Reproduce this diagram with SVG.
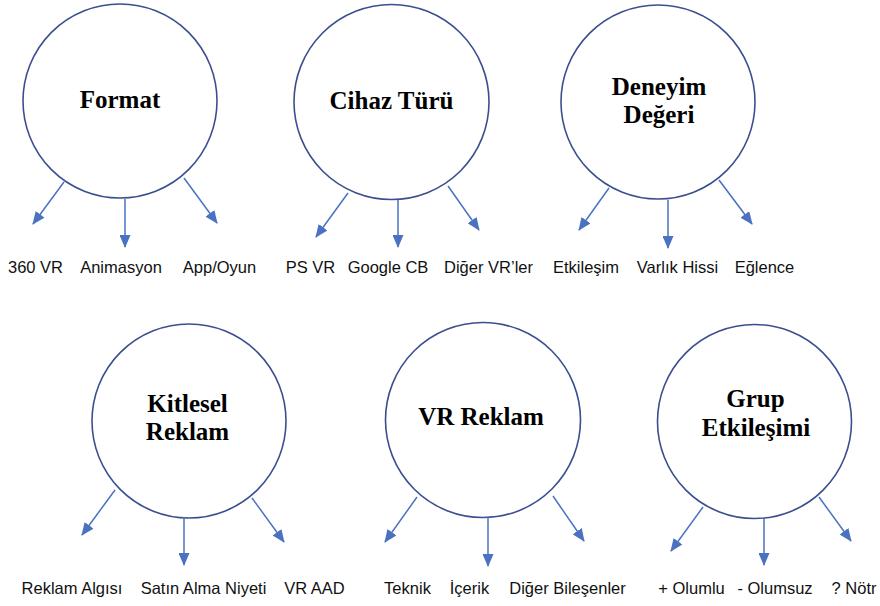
<svg xmlns="http://www.w3.org/2000/svg" width="880" height="606" viewBox="0 0 880 606">
<style>
.node circle{fill:#fff;stroke:#3B4F8F;stroke-width:1.6}
.title{font-family:"Liberation Serif","Times New Roman",serif;font-weight:bold;font-size:25px;fill:#000;text-anchor:middle}
.lbl{font-family:"Liberation Sans",Arial,sans-serif;font-size:16.5px;fill:#111;text-anchor:middle}
.conn line{stroke:#4A72C0;stroke-width:1.5;marker-end:url(#ah)}
</style>
<defs>
<marker id="ah" viewBox="0 0 13 11" refX="12" refY="5.5" markerWidth="13" markerHeight="11" markerUnits="userSpaceOnUse" orient="auto">
<path d="M0,0 L13,5.5 L0,11 z" fill="#4A72C0"/>
</marker>
</defs>
<rect width="880" height="606" fill="#fff"/>
<g id="format" class="node"><circle cx="120" cy="101" r="97"/><text class="title" x="120" y="108">Format</text></g>
<g id="cihaz" class="node"><circle cx="391.5" cy="102" r="97.5"/><text class="title" x="391.5" y="109">Cihaz Türü</text></g>
<g id="deneyim" class="node"><circle cx="658" cy="102" r="97"/><text class="title" x="659" y="95">Deneyim</text><text class="title" x="659" y="123">Değeri</text></g>
<g id="kitlesel" class="node"><circle cx="189" cy="421" r="97"/><text class="title" x="187.5" y="412">Kitlesel</text><text class="title" x="187.5" y="440">Reklam</text></g>
<g id="vrreklam" class="node"><circle cx="483" cy="420" r="97.5"/><text class="title" x="481" y="425">VR Reklam</text></g>
<g id="grup" class="node"><circle cx="754.5" cy="421.5" r="97"/><text class="title" x="755.5" y="407">Grup</text><text class="title" x="756" y="436">Etkileşimi</text></g>
<g id="connectors" class="conn">
<line x1="64" y1="182" x2="33" y2="224"/>
<line x1="125" y1="199" x2="125" y2="247"/>
<line x1="184" y1="178" x2="217" y2="223"/>
<line x1="348" y1="193" x2="316" y2="237"/>
<line x1="398" y1="200" x2="398" y2="247"/>
<line x1="448" y1="186" x2="479" y2="230"/>
<line x1="609" y1="188" x2="579" y2="230"/>
<line x1="668" y1="200" x2="668" y2="248"/>
<line x1="719" y1="180" x2="752" y2="224"/>
<line x1="115" y1="490" x2="82" y2="535"/>
<line x1="184" y1="517" x2="184" y2="565"/>
<line x1="252" y1="498" x2="284" y2="542"/>
<line x1="417" y1="497" x2="385" y2="542"/>
<line x1="488" y1="517" x2="488" y2="566"/>
<line x1="553" y1="496" x2="584" y2="541"/>
<line x1="703" y1="507" x2="671" y2="551"/>
<line x1="764" y1="518" x2="764" y2="565"/>
<line x1="819" y1="497" x2="851" y2="541"/>
</g>
<g id="labels">
<text class="lbl" x="35.5" y="273">360 VR</text>
<text class="lbl" x="121" y="273">Animasyon</text>
<text class="lbl" x="219.5" y="273">App/Oyun</text>
<text class="lbl" x="310.5" y="273">PS VR</text>
<text class="lbl" x="388" y="273">Google CB</text>
<text class="lbl" x="488.5" y="273">Diğer VR’ler</text>
<text class="lbl" x="586" y="273">Etkileşim</text>
<text class="lbl" x="677.5" y="273">Varlık Hissi</text>
<text class="lbl" x="764.5" y="273">Eğlence</text>
<text class="lbl" x="72" y="594">Reklam Algısı</text>
<text class="lbl" x="203.5" y="594">Satın Alma Niyeti</text>
<text class="lbl" x="314.5" y="594">VR AAD</text>
<text class="lbl" x="407.5" y="594">Teknik</text>
<text class="lbl" x="469.5" y="594">İçerik</text>
<text class="lbl" x="567.5" y="594">Diğer Bileşenler</text>
<text class="lbl" x="691.5" y="594">+ Olumlu</text>
<text class="lbl" x="775" y="594">- Olumsuz</text>
<text class="lbl" x="854" y="594">? Nötr</text>
</g>
</svg>
